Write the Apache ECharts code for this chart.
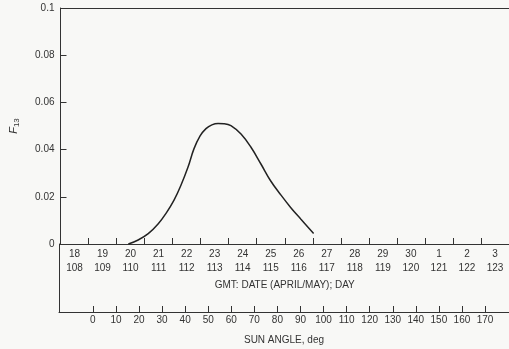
<!DOCTYPE html>
<html>
<head>
<meta charset="utf-8">
<script src="https://cdn.jsdelivr.net/npm/echarts@6/dist/echarts.min.js"></script>
<style>
html,body{margin:0;padding:0;background:#f8f8f6;}
#c{width:509px;height:349px;}
</style>
</head>
<body>
<div id="c"></div>
<script>
// Date / day-of-year labels (category per day, April 18 .. May 3)
var dateLabels = ['18','19','20','21','22','23','24','25','26','27','28','29','30','1','2','3'];
var dayLabels = ['108','109','110','111','112','113','114','115','116','117','118','119','120','121','122','123'];
// Curve: day of year (fractional) vs F13
var curveDay = [110.42, 110.77, 111.13, 111.48, 111.77, 112.05, 112.30, 112.55, 112.76, 112.98, 113.19, 113.40, 113.62, 113.83, 114.08, 114.44, 114.79, 115.15, 115.50, 115.86, 116.21, 116.57, 117.03];
var curveF   = [0.0, 0.0017, 0.0044, 0.0085, 0.0131, 0.0186, 0.0250, 0.0326, 0.0403, 0.0458, 0.0489, 0.0505, 0.0511, 0.0510, 0.0502, 0.0466, 0.0411, 0.0339, 0.0267, 0.0208, 0.0155, 0.0106, 0.0045];
// Sun angle tick labels
var sunTicks = [0,10,20,30,40,50,60,70,80,90,100,110,120,130,140,150,160,170];

var ink = '#333';
var font = 'Liberation Sans';
var catLabels = dateLabels.map(function(d, i){ return d + '\n' + dayLabels[i]; });
var curveData = curveDay.map(function(d, i){ return [d, curveF[i]]; });

var chart = echarts.init(document.getElementById('c'));
chart.setOption({
  backgroundColor: '#f8f8f6',
  animation: false,
  textStyle: { fontFamily: font, color: ink },
  grid: [
    { left: 59, right: 0, top: 8, bottom: 105 },
    { left: 59, right: 0, top: 244, bottom: 37 }
  ],
  xAxis: [
    {
      type: 'category', gridIndex: 0, position: 'bottom', data: catLabels, boundaryGap: true,
      axisLine: { show: true, onZero: false, lineStyle: { color: ink, width: 1 } },
      axisTick: { show: true, inside: true, length: 6, interval: 0, lineStyle: { color: ink } },
      axisLabel: { interval: 0, margin: 3, fontSize: 10, lineHeight: 14, color: ink, fontFamily: font },
      splitLine: { show: false },
      name: 'GMT: DATE (APRIL/MAY); DAY', nameLocation: 'middle', nameGap: 36,
      nameTextStyle: { fontSize: 10, color: ink, fontFamily: font }
    },
    {
      type: 'value', gridIndex: 0, position: 'top', min: 108, max: 124,
      axisLine: { show: true, onZero: false, lineStyle: { color: ink, width: 1 } },
      axisTick: { show: false }, axisLabel: { show: false }, splitLine: { show: false }
    },
    {
      type: 'value', gridIndex: 1, position: 'bottom', min: -14.7, max: 180.4,
      axisLine: { show: true, onZero: false, lineStyle: { color: ink, width: 1 } },
      axisTick: { show: true, inside: true, length: 6, customValues: sunTicks, lineStyle: { color: ink } },
      axisLabel: { customValues: sunTicks, margin: 3, fontSize: 10, color: ink, fontFamily: font },
      splitLine: { show: false },
      name: 'SUN ANGLE, deg', nameLocation: 'middle', nameGap: 23,
      nameTextStyle: { fontSize: 10, color: ink, fontFamily: font }
    }
  ],
  yAxis: [
    {
      type: 'value', gridIndex: 0, min: 0, max: 0.1, interval: 0.02,
      axisLine: { show: true, onZero: false, lineStyle: { color: ink, width: 1 } },
      axisTick: { show: true, inside: true, length: 6, lineStyle: { color: ink } },
      axisLabel: {
        margin: 6, fontSize: 10, color: ink, fontFamily: font,
        formatter: function(v){
          if (Math.abs(v) < 1e-9) return '0';
          if (Math.abs(v - 0.1) < 1e-9) return '0.1';
          return v.toFixed(2);
        }
      },
      splitLine: { show: false },
      name: '{f|F}{s|13}', nameLocation: 'middle', nameRotate: 90, nameGap: 40,
      nameTextStyle: {
        rich: {
          f: { fontSize: 11, fontStyle: 'italic', color: ink, fontFamily: font },
          s: { fontSize: 8, color: ink, fontFamily: font, padding: [6, 0, 0, 0] }
        }
      }
    },
    {
      type: 'value', gridIndex: 1, min: 0, max: 1,
      axisLine: { show: true, onZero: false, lineStyle: { color: ink, width: 1 } },
      axisTick: { show: false }, axisLabel: { show: false }, splitLine: { show: false }
    }
  ],
  series: [
    {
      type: 'line', xAxisIndex: 1, yAxisIndex: 0, data: curveData,
      smooth: 0.4, symbol: 'none',
      lineStyle: { color: '#222', width: 1.5 }
    }
  ]
});
</script>
</body>
</html>
